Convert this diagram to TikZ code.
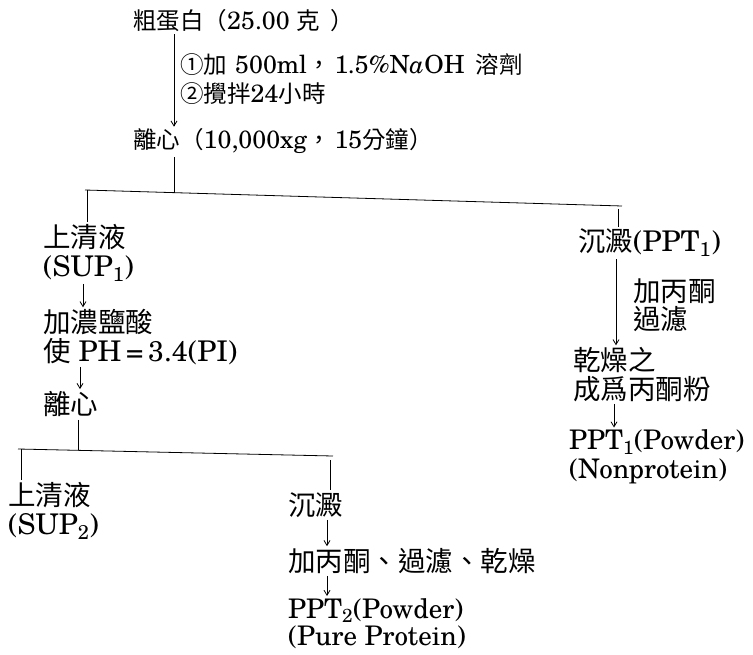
\documentclass[tikz,border=0pt]{standalone}
\usepackage{fontspec}
\setmainfont{texgyreschola-regular.otf}[ItalicFont=texgyreschola-italic.otf]
\newfontfamily\cjf{Noto Sans CJK TC}
\newcommand\cjs{\cjf\fontsize{23.5}{28.5}\selectfont}
\newcommand\cjb{\cjf\fontsize{27.5}{28.5}\selectfont}
\usetikzlibrary{arrows.meta}
\begin{document}
\begin{tikzpicture}[x=1pt,y=-1pt,
  topt/.style={inner sep=0pt, font=\fontsize{25}{28.5}\selectfont, align=left},
  txt/.style={inner sep=0pt, font=\fontsize{28.5}{28.5}\selectfont, align=left},
  pw/.style={inner sep=0pt, font=\fontsize{27}{29}\selectfont, align=left},
  arr/.style={-{Straight Barb[length=5pt,width=6pt]}, line width=0.8pt, shorten <=2pt, shorten >=2pt},
  ln/.style={line width=0.8pt}]
\useasboundingbox (0,0) rectangle (753,655);
% top
\node[topt,anchor=base west] (crude) at (133,30) {{\cjs 粗蛋白（}25.00\hspace{7pt}{\cjs 克}\hspace{10pt}{\cjs ）}};
\node[topt,anchor=base west] (s1) at (180,74) {{\cjs ①加}\hspace{8pt}500ml{\cjs ，}\hspace{4pt}1.5\%N\textit{a}OH\hspace{11pt}{\cjs 溶劑}};
\node[topt,anchor=base west] (s2) at (180,103) {{\cjs ②攪拌}24{\cjs 小時}};
\node[topt,anchor=base west] (c1) at (133,149) {{\cjs 離心（}10,000xg{\cjs ，}\hspace{4pt}15{\cjs 分鐘）}};
\coordinate (v1) at (174,0);
\draw[arr] (crude.south -| v1) -- (c1.north -| v1);
% first bar
\coordinate (b1l) at (85,190);
\coordinate (b1r) at (622,206);
\coordinate (j1) at (174,192.7);
\draw[ln] (b1l) -- (b1r);
\draw[ln,shorten <=3pt] (c1.south -| v1) -- (j1);
\coordinate (d1) at (87,190);
\coordinate (d2) at (618,206);
\node[txt,anchor=north west] (sup1) at (43,224.3) {{\cjb 上清液}\\(SUP\textsubscript{1})};
\draw[ln,shorten >=2pt] (d1) -- (sup1.north -| d1);
\node[txt,anchor=base west] (ppt1) at (578,251.5) {{\cjb 沉澱}(PPT\textsubscript{1})};
\draw[ln,shorten <=3pt,shorten >=2pt] (d2) -- (ppt1.north -| d2);
% right branch
\node[txt,anchor=north west] (acet1) at (633,278.3) {{\cjb 加丙酮}\\{\cjb 過濾}};
\node[txt,anchor=north west] (dry1) at (573,347.3) {{\cjb 乾燥之}\\{\cjb 成爲丙酮粉}};
\coordinate (v5) at (616,0);
\draw[arr] (ppt1.south -| v5) -- (dry1.north -| v5);
\node[pw,anchor=north west] (pow1) at (569,429.5) {PPT\textsubscript{1}(Powder)\\(Nonprotein)};
\coordinate (v6) at (614,0);
\draw[arr] (dry1.south -| v6) -- (pow1.north -| v6);
% left branch
\node[txt,anchor=north west] (acid) at (43,309.3) {{\cjb 加濃鹽酸}\\{\cjb 使}\hspace{8pt}PH\,=\,3.4(PI)};
\coordinate (v2) at (83,0);
\draw[arr] (sup1.south -| v2) -- (acid.north -| v2);
\node[txt,anchor=base west] (c2) at (43,414.5) {{\cjb 離心}};
\coordinate (v3) at (80,0);
\draw[arr] (acid.south -| v3) -- (c2.north -| v3);
% second bar
\coordinate (b2l) at (18,449);
\coordinate (b2r) at (333,456);
\coordinate (j2) at (78,450.3);
\draw[ln] (b2l) -- (b2r);
\draw[ln,shorten <=3pt] (c2.south -| j2) -- (j2);
\coordinate (d3) at (21,449);
\coordinate (d4) at (330,456);
\node[txt,anchor=north west] (sup2) at (8,482.3) {{\cjb 上清液}\\(SUP\textsubscript{2})};
\node[txt,anchor=base west] (ppt2) at (288,515.5) {{\cjb 沉澱}};
\draw[ln,shorten >=2pt] (d3) -- (sup2.north -| d3);
\draw[ln,shorten <=4pt,shorten >=3pt] (d4) -- (ppt2.north -| d4);
\node[txt,anchor=base west] (acet2) at (288,571.5) {{\cjb 加丙酮、過濾、乾燥}};
\coordinate (v4) at (327,0);
\draw[arr] (ppt2.south -| v4) -- (acet2.north -| v4);
\node[pw,anchor=north west,font=\fontsize{27}{27.5}\selectfont] (pow2) at (288,598) {PPT\textsubscript{2}(Powder)\\(Pure Protein)};
\draw[arr] (acet2.south -| v4) -- (pow2.north -| v4);
\end{tikzpicture}
\end{document}
